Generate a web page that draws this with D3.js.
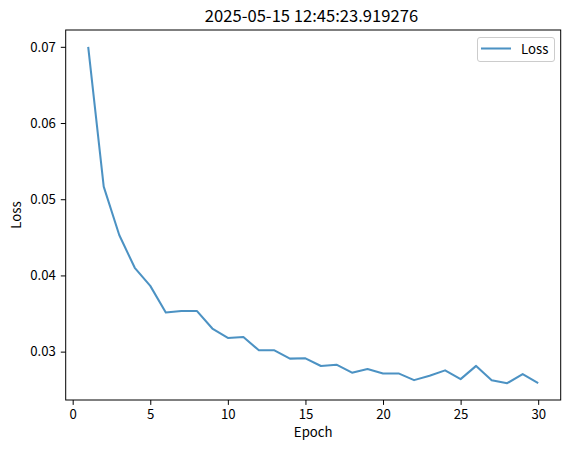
<!DOCTYPE html>
<html><head><meta charset="utf-8">
<script src="https://cdn.jsdelivr.net/npm/d3@7"></script>
<style>body{margin:0;background:#fff}svg{display:block}text{font-family:"Noto Sans CJK SC","DejaVu Sans",sans-serif;fill:#000}</style>
</head><body>
<script>
const epochs = d3.range(1, 31);
const loss = [0.0700,0.05166,0.0453,0.0410,0.03863,0.03513,0.03534,0.03534,0.03303,0.0318,
  0.03193,0.03017,0.03017,0.02908,0.02912,0.02811,0.02829,0.02724,0.02771,0.02714,
  0.02714,0.02626,0.02684,0.02754,0.02639,0.02813,0.02626,0.02586,0.02705,0.02586];
const xTicks = [0,5,10,15,20,25,30];
const yTicks = [0.03,0.04,0.05,0.06,0.07];
const title = "2025-05-15 12:45:23.919276";

const W = 571, H = 449;
const L = 65.7, R = 560.7, T = 30, B = 400;
const FS = 13.2;
const svg = d3.select("body").append("svg").attr("width", W).attr("height", H);

const xmin = 1, xmax = 30, xr = xmax - xmin;
const x = d3.scaleLinear().domain([xmin - 0.05*xr, xmax + 0.05*xr]).range([L, R]);
const ymin = d3.min(loss), ymax = d3.max(loss), yr = ymax - ymin;
const y = d3.scaleLinear().domain([ymin - 0.05*yr, ymax + 0.05*yr]).range([B, T]);

const line = d3.line().x((d,i)=>x(epochs[i])).y(d=>y(d));
svg.append("path").datum(loss).attr("d", line).attr("fill","none")
  .attr("stroke","#1f77b4").attr("stroke-opacity",0.8).attr("stroke-width",2.05)
  .attr("stroke-linejoin","round").attr("stroke-linecap","butt");

const xAxis = d3.axisBottom(x).tickValues(xTicks).tickSize(4.9).tickPadding(4.5).tickFormat(d3.format("d"));
const gx = svg.append("g").attr("transform",`translate(0,${B})`).call(xAxis);
const yAxis = d3.axisLeft(y).tickValues(yTicks).tickSize(4.9).tickPadding(5).tickFormat(d3.format(".2f"));
const gy = svg.append("g").attr("transform",`translate(${L},0)`).call(yAxis);
[gx, gy].forEach(g => {
  g.select(".domain").remove();
  g.selectAll(".tick line").attr("stroke","#000").attr("stroke-width",1);
  g.selectAll(".tick text").attr("font-size",FS).attr("font-family",'"Noto Sans CJK SC","DejaVu Sans",sans-serif');
});

svg.append("rect").attr("x",L).attr("y",T).attr("width",R-L).attr("height",B-T)
  .attr("fill","none").attr("stroke","#000").attr("stroke-width",1);

svg.append("text").attr("x",311.5).attr("y",22).attr("text-anchor","middle").attr("font-size",16.6).text(title);
svg.append("text").attr("x",(L+R)/2).attr("y",437).attr("text-anchor","middle").attr("font-size",FS).text("Epoch");
svg.append("text").attr("transform",`translate(21,${(T+B)/2}) rotate(-90)`).attr("text-anchor","middle").attr("font-size",FS).text("Loss");

const lg = svg.append("g");
lg.append("rect").attr("x",477.5).attr("y",37.5).attr("width",77).attr("height",24).attr("rx",2.5)
  .attr("fill","#fff").attr("fill-opacity",0.8).attr("stroke","#ccc").attr("stroke-width",1);
lg.append("line").attr("x1",481).attr("x2",511).attr("y1",48.5).attr("y2",48.5)
  .attr("stroke","#1f77b4").attr("stroke-opacity",0.8).attr("stroke-width",2.05);
lg.append("text").attr("x",521).attr("y",53.5).attr("font-size",FS).text("Loss");
</script>
</body></html>
